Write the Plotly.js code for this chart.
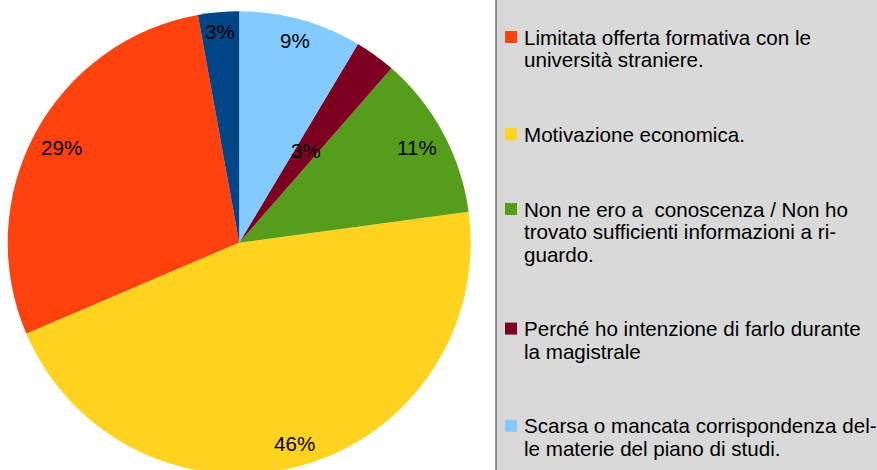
<!DOCTYPE html>
<html>
<head>
<meta charset="utf-8">
<script src="https://cdn.plot.ly/plotly-3.0.1.min.js"></script>
<style>
html,body{margin:0;padding:0;overflow:hidden;background:#fff;}
#chart{width:877px;height:480px;}
</style>
</head>
<body>
<div id="chart"></div>
<script>
// ---- data ----
const categories = [
  "Limitata offerta formativa con le università straniere.",
  "Motivazione economica.",
  "Non ne ero a  conoscenza / Non ho trovato sufficienti informazioni a riguardo.",
  "Perché ho intenzione di farlo durante la magistrale",
  "Scarsa o mancata corrispondenza delle materie del piano di studi.",
  "Altro"
];
const legendLabels = [
  "Limitata offerta formativa con le<br>università straniere.",
  "Motivazione economica.",
  "Non ne ero a\u00a0 conoscenza / Non ho<br>trovato sufficienti informazioni a ri-<br>guardo.",
  "Perché ho intenzione di farlo durante<br>la magistrale",
  "Scarsa o mancata corrispondenza del-<br>le materie del piano di studi."
];
const values = [10, 16, 4, 1, 3, 1];
const colors = ["#ff420e", "#ffd320", "#579d1c", "#7e0021", "#83caff", "#004586"];

// ---- layout constants (pixels) ----
const W = 877, H = 480;
const CX = 239.2, CY = 242.7, R = 231.5;
const labelRadius = [0.872, 0.898, 0.871, 0.494, 0.905, 0.918];
const FONT = '"Liberation Sans", Arial, sans-serif';
const FS = 20.6;

const total = values.reduce((a, b) => a + b, 0);
const n = values.length;
const px = x => x / W;
const py = y => 1 - y / H;

// slices run counterclockwise from 12 o'clock, beginning with the last category
const rotation = -360 * (values[n - 1] + values[0]) / total;

const annotations = [];
const shapes = [];

// percentage labels
let a = 0;
const order = [n - 1].concat([...Array(n - 1).keys()]);
order.forEach(i => {
  const span = 360 * values[i] / total;
  const mid = (a - span / 2) * Math.PI / 180;
  a -= span;
  const rr = labelRadius[i] * R;
  annotations.push({
    xref: 'paper', yref: 'paper',
    x: px(CX + rr * Math.sin(mid)), y: py(CY - rr * Math.cos(mid)),
    xanchor: 'center', yanchor: 'middle',
    text: Math.round(values[i] / total * 100) + '%',
    showarrow: false,
    font: {family: FONT, size: FS, color: '#000'}
  });
});

// legend box
shapes.push({
  type: 'rect', xref: 'paper', yref: 'paper',
  x0: px(496), x1: px(900), y0: py(600), y1: py(-10),
  fillcolor: '#d9d9d9', line: {color: '#3a3a3a', width: 1}
});

// legend entries
const LINE = 22.4, GAP = 52.4;
let baseline = 44.3;
legendLabels.forEach((lab, i) => {
  const lines = lab.split('<br>');
  const sq = baseline - 7.3;
  shapes.push({
    type: 'rect', xref: 'paper', yref: 'paper',
    x0: px(505), x1: px(517), y0: py(sq + 6), y1: py(sq - 6),
    fillcolor: colors[i], line: {width: 0}
  });
  lines.forEach((ln, k) => {
    annotations.push({
      xref: 'paper', yref: 'paper',
      x: px(522), y: py(baseline + k * LINE - 7.1),
      xanchor: 'left', yanchor: 'middle',
      text: ln, showarrow: false,
      font: {family: FONT, size: FS, color: '#000'}
    });
  });
  baseline += lines.length * LINE + GAP;
});

const trace = {
  type: 'pie',
  labels: categories,
  values: values,
  marker: {colors: colors, line: {width: 0}},
  sort: false,
  direction: 'counterclockwise',
  rotation: rotation,
  textinfo: 'none',
  hoverinfo: 'label+percent',
  domain: {x: [px(CX - R), px(CX + R)], y: [py(CY + R), py(CY - R)]}
};

const layout = {
  width: W, height: H,
  margin: {l: 0, r: 0, t: 0, b: 0},
  paper_bgcolor: '#ffffff',
  showlegend: false,
  font: {family: FONT},
  annotations: annotations,
  shapes: shapes
};

Plotly.newPlot('chart', [trace], layout, {staticPlot: true});
</script>
</body>
</html>
